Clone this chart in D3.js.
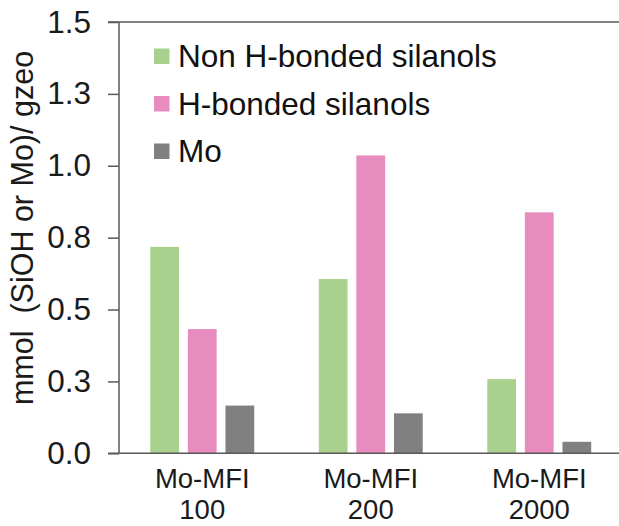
<!DOCTYPE html>
<html><head><meta charset="utf-8">
<script src="https://cdn.jsdelivr.net/npm/d3@7"></script>
<style>body{margin:0;background:#fff}svg{display:block;font-family:"Liberation Sans",Arial,sans-serif}</style>
</head><body>
<script>
const groups = ["Mo-MFI 100", "Mo-MFI 200", "Mo-MFI 2000"];
const groupLines = [["Mo-MFI","100"],["Mo-MFI","200"],["Mo-MFI","2000"]];
const seriesNames = ["Non H-bonded silanols", "H-bonded silanols", "Mo"];
const nonHBonded = [0.718, 0.606, 0.258];
const hBonded = [0.432, 1.036, 0.838];
const mo = [0.166, 0.139, 0.040];
const colors = ["#a9d18e", "#e88bbf", "#808080"];
const yTicks = [0, 0.25, 0.5, 0.75, 1.0, 1.25, 1.5];
const yTickLabels = ["0.0","0.3","0.5","0.8","1.0","1.3","1.5"];
const yTitle = "mmol  (SiOH or Mo)/ gzeo";

const W = 619, H = 526;
const svg = d3.select("body").append("svg").attr("width", W).attr("height", H);
const axisX = 119, y0 = 453.3, yTop = 22;
const y = d3.scaleLinear().domain([0, 1.5]).range([y0, yTop]);
const x = d3.scaleBand().domain(groups).range([118, 623.5]).paddingInner(0.383).paddingOuter(0.1915);
const xs = d3.scaleBand().domain(seriesNames).range([0, x.bandwidth()]).paddingInner(0.235);
const values = [nonHBonded, hBonded, mo];
const lineColor = "#595959";

// bars
seriesNames.forEach((s, si) => {
  svg.append("g").selectAll("rect").data(groups).join("rect")
    .attr("x", (g) => x(g) + xs(s))
    .attr("width", xs.bandwidth())
    .attr("y", (g, i) => y(values[si][i]))
    .attr("height", (g, i) => y(0) - y(values[si][i]))
    .attr("fill", colors[si]);
});

// y axis
const yAxis = d3.axisLeft(y).tickValues(yTicks).tickFormat((d, i) => yTickLabels[i]).tickSize(11).tickPadding(17);
const ga = svg.append("g").attr("transform", `translate(${axisX},0)`).call(yAxis);
ga.select(".domain").attr("stroke", lineColor).attr("stroke-width", 1.5).attr("d", `M0,${yTop}V${y0}`);
ga.selectAll(".tick line").attr("stroke", lineColor).attr("stroke-width", 1.5);
ga.selectAll(".tick text").attr("font-size", 31.5).attr("fill", "#1a1a1a").attr("font-family", '"Liberation Sans",Arial,sans-serif');

// horizontal frame lines (x axis and top)
svg.append("line").attr("x1", 108).attr("x2", W).attr("y1", y(0)).attr("y2", y(0)).attr("stroke", lineColor).attr("stroke-width", 1.5);
svg.append("line").attr("x1", 108).attr("x2", W).attr("y1", y(1.5)).attr("y2", y(1.5)).attr("stroke", lineColor).attr("stroke-width", 1.5);

// x labels
groups.forEach((g, i) => {
  const t = svg.append("text").attr("text-anchor", "middle").attr("font-size", 27.5).attr("fill", "#1a1a1a");
  groupLines[i].forEach((ln, j) => {
    t.append("tspan").attr("x", x(g) + x.bandwidth() / 2).attr("y", 488 + j * 31).text(ln);
  });
});

// y title
svg.append("text").attr("transform", `translate(33,228) rotate(-90)`)
  .style("white-space", "pre")
  .attr("text-anchor", "middle").attr("font-size", 30.5).attr("fill", "#1a1a1a").text(yTitle);

// legend
const leg = svg.append("g");
seriesNames.forEach((s, i) => {
  const cy = 56 + i * 47.5;
  leg.append("rect").attr("x", 154).attr("y", cy - 7.5).attr("width", 15.5).attr("height", 15.5).attr("fill", colors[i]);
  leg.append("text").attr("x", 178).attr("y", cy + 11).attr("font-size", 31.5).attr("fill", "#111").text(s);
});
</script>
</body></html>
